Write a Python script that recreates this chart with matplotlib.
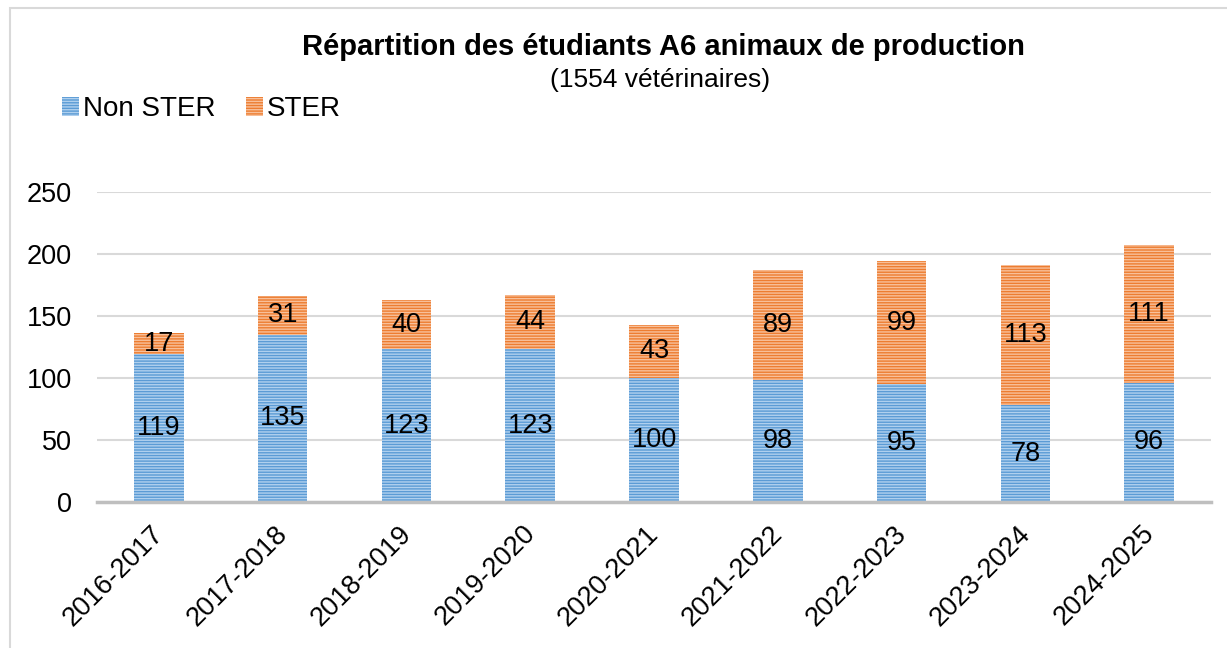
import numpy as np
import matplotlib.pyplot as plt
from matplotlib.patches import Rectangle
from matplotlib.transforms import ScaledTranslation

plt.rcParams["font.family"] = ["Liberation Sans", "DejaVu Sans"]
plt.rcParams["hatch.linewidth"] = 1.0

# data
years = ["2016-2017", "2017-2018", "2018-2019", "2019-2020", "2020-2021",
         "2021-2022", "2022-2023", "2023-2024", "2024-2025"]
non_ster = [119, 135, 123, 123, 100, 98, 95, 78, 96]
ster = [17, 31, 40, 44, 43, 89, 99, 113, 111]
yticks = [0, 50, 100, 150, 200, 250]

fig = plt.figure(figsize=(12.27, 6.48), dpi=100)
W, H = 1227, 648

# chart frame (continues past the right and bottom edges)
fig.patches.append(Rectangle((10 / W, -0.1), 1.2, 1.1 - 8 / H,
                             transform=fig.transFigure, fill=False,
                             edgecolor="#d9d9d9", linewidth=1.5))

ax = fig.add_axes([97 / W, 1 - 502 / H, (1211 - 97) / W, (502 - 192) / H])

x = np.arange(len(years))
b1 = ax.bar(x, non_ster, width=0.4, color="#5b9bd5", edgecolor="#b0d0ee",
            hatch="------", linewidth=0, label="Non STER")
b2 = ax.bar(x, ster, width=0.4, bottom=non_ster, color="#ed7d31",
            edgecolor="#f8c09a", hatch="------", linewidth=0, label="STER")

ax.bar_label(b1, label_type="center", fontsize=19.5)
ax.bar_label(b2, label_type="center", fontsize=19.5)

ax.set_xlim(-0.5, len(years) - 0.5)
ax.set_ylim(0, 250)
ax.set_yticks(yticks)
ax.yaxis.grid(True, color="#d9d9d9", linewidth=1.5)
ax.set_axisbelow(True)
for s in ["top", "right", "left"]:
    ax.spines[s].set_visible(False)
ax.spines["bottom"].set_color("#bfbfbf")
ax.spines["bottom"].set_linewidth(2.5)
ax.tick_params(axis="both", length=0, labelsize=19.5)
ax.tick_params(axis="y", pad=18)
ax.tick_params(axis="x", pad=20)

ax.set_xticks(x)
ax.set_xticklabels(years, rotation=45, ha="right", rotation_mode="anchor",
                   va="center")
offset = ScaledTranslation(1 / 100, 0, fig.dpi_scale_trans)
for lab in ax.get_xticklabels():
    lab.set_transform(lab.get_transform() + offset)

fig.text(663 / W, 1 - 55 / H, "Répartition des étudiants A6 animaux de production",
         ha="center", va="baseline", fontsize=21, fontweight="bold")
fig.text(660 / W, 1 - 87 / H, "(1554 vétérinaires)",
         ha="center", va="baseline", fontsize=19)

fig.legend(loc="upper left", bbox_to_anchor=(62 / W, 1 - 96 / H), ncol=2,
           frameon=False, fontsize=20, handlelength=0.6, handleheight=0.7,
           handletextpad=0.15, columnspacing=1.1, borderaxespad=0,
           borderpad=0)

fig.savefig("out.png", dpi=100)
